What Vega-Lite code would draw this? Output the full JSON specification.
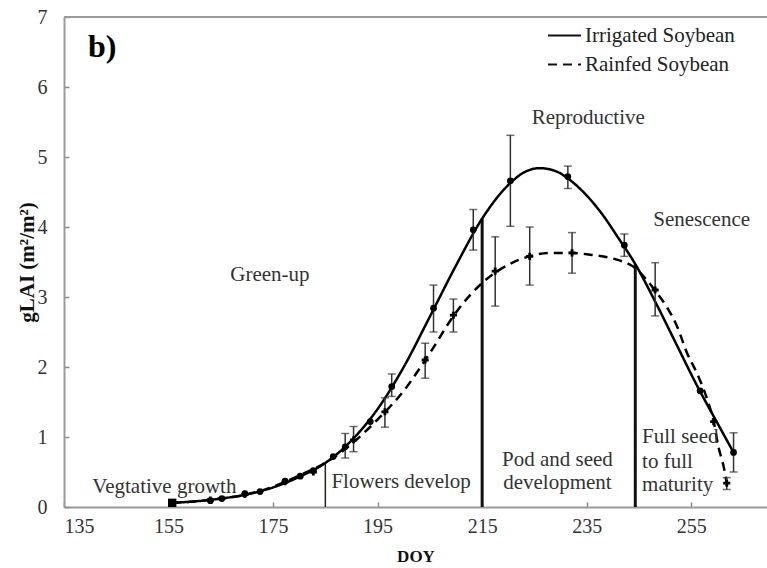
{
  "$schema": "https://vega.github.io/schema/vega-lite/v6.json",
  "width": 703,
  "height": 490,
  "autosize": {"type": "none"},
  "padding": {"left": 64, "top": 17, "right": 0, "bottom": 61},
  "background": "white",
  "config": {
    "view": {"stroke": null},
    "font": "Liberation Serif",
    "axis": {
      "grid": false,
      "domainColor": "#9a9a9a",
      "domainWidth": 2,
      "tickColor": "#8a8a8a",
      "tickSize": -5,
      "tickWidth": 1.5,
      "labelFont": "Liberation Serif",
      "labelFontSize": 20,
      "labelColor": "#333333",
      "titleFont": "Liberation Serif",
      "titleFontWeight": "bold",
      "titleColor": "#111111"
    }
  },
  "datasets": {
    "curve": [
      {"series": "Irrigated Soybean", "DOY": 155.7, "gLAI": 0.06},
      {"series": "Irrigated Soybean", "DOY": 160, "gLAI": 0.08},
      {"series": "Irrigated Soybean", "DOY": 165, "gLAI": 0.12},
      {"series": "Irrigated Soybean", "DOY": 170, "gLAI": 0.18},
      {"series": "Irrigated Soybean", "DOY": 175, "gLAI": 0.28},
      {"series": "Irrigated Soybean", "DOY": 180, "gLAI": 0.43},
      {"series": "Irrigated Soybean", "DOY": 185, "gLAI": 0.63},
      {"series": "Irrigated Soybean", "DOY": 190, "gLAI": 0.95},
      {"series": "Irrigated Soybean", "DOY": 195, "gLAI": 1.40},
      {"series": "Irrigated Soybean", "DOY": 200, "gLAI": 2.00},
      {"series": "Irrigated Soybean", "DOY": 205, "gLAI": 2.72},
      {"series": "Irrigated Soybean", "DOY": 210, "gLAI": 3.45},
      {"series": "Irrigated Soybean", "DOY": 215, "gLAI": 4.12},
      {"series": "Irrigated Soybean", "DOY": 220, "gLAI": 4.60},
      {"series": "Irrigated Soybean", "DOY": 223, "gLAI": 4.78},
      {"series": "Irrigated Soybean", "DOY": 226, "gLAI": 4.84},
      {"series": "Irrigated Soybean", "DOY": 229, "gLAI": 4.80},
      {"series": "Irrigated Soybean", "DOY": 232, "gLAI": 4.66},
      {"series": "Irrigated Soybean", "DOY": 235, "gLAI": 4.45},
      {"series": "Irrigated Soybean", "DOY": 238, "gLAI": 4.18},
      {"series": "Irrigated Soybean", "DOY": 241, "gLAI": 3.85},
      {"series": "Irrigated Soybean", "DOY": 244.3, "gLAI": 3.47},
      {"series": "Irrigated Soybean", "DOY": 248, "gLAI": 2.95},
      {"series": "Irrigated Soybean", "DOY": 252, "gLAI": 2.35},
      {"series": "Irrigated Soybean", "DOY": 256, "gLAI": 1.75},
      {"series": "Irrigated Soybean", "DOY": 260, "gLAI": 1.20},
      {"series": "Irrigated Soybean", "DOY": 263.1, "gLAI": 0.78},
      {"series": "Rainfed Soybean", "DOY": 155.7, "gLAI": 0.06},
      {"series": "Rainfed Soybean", "DOY": 160, "gLAI": 0.08},
      {"series": "Rainfed Soybean", "DOY": 165, "gLAI": 0.12},
      {"series": "Rainfed Soybean", "DOY": 170, "gLAI": 0.18},
      {"series": "Rainfed Soybean", "DOY": 175, "gLAI": 0.29},
      {"series": "Rainfed Soybean", "DOY": 180, "gLAI": 0.45},
      {"series": "Rainfed Soybean", "DOY": 185, "gLAI": 0.63},
      {"series": "Rainfed Soybean", "DOY": 190, "gLAI": 0.90},
      {"series": "Rainfed Soybean", "DOY": 195, "gLAI": 1.25},
      {"series": "Rainfed Soybean", "DOY": 200, "gLAI": 1.66},
      {"series": "Rainfed Soybean", "DOY": 205, "gLAI": 2.20},
      {"series": "Rainfed Soybean", "DOY": 210, "gLAI": 2.78},
      {"series": "Rainfed Soybean", "DOY": 215, "gLAI": 3.20},
      {"series": "Rainfed Soybean", "DOY": 220, "gLAI": 3.46},
      {"series": "Rainfed Soybean", "DOY": 224, "gLAI": 3.58},
      {"series": "Rainfed Soybean", "DOY": 228, "gLAI": 3.63},
      {"series": "Rainfed Soybean", "DOY": 232, "gLAI": 3.63},
      {"series": "Rainfed Soybean", "DOY": 236, "gLAI": 3.60},
      {"series": "Rainfed Soybean", "DOY": 240, "gLAI": 3.55},
      {"series": "Rainfed Soybean", "DOY": 244.5, "gLAI": 3.40},
      {"series": "Rainfed Soybean", "DOY": 248, "gLAI": 3.10},
      {"series": "Rainfed Soybean", "DOY": 250.3, "gLAI": 2.86},
      {"series": "Rainfed Soybean", "DOY": 252.3, "gLAI": 2.58},
      {"series": "Rainfed Soybean", "DOY": 254.2, "gLAI": 2.20},
      {"series": "Rainfed Soybean", "DOY": 256.1, "gLAI": 1.91},
      {"series": "Rainfed Soybean", "DOY": 258, "gLAI": 1.55},
      {"series": "Rainfed Soybean", "DOY": 259.3, "gLAI": 1.22},
      {"series": "Rainfed Soybean", "DOY": 260.2, "gLAI": 0.86},
      {"series": "Rainfed Soybean", "DOY": 261.2, "gLAI": 0.58},
      {"series": "Rainfed Soybean", "DOY": 261.8, "gLAI": 0.34}
    ],
    "obs": [
      {"series": "Irrigated Soybean", "DOY": 155.7, "gLAI": 0.06},
      {"series": "Irrigated Soybean", "DOY": 163, "gLAI": 0.09},
      {"series": "Irrigated Soybean", "DOY": 165.2, "gLAI": 0.12},
      {"series": "Irrigated Soybean", "DOY": 169.6, "gLAI": 0.19},
      {"series": "Irrigated Soybean", "DOY": 172.5, "gLAI": 0.22},
      {"series": "Irrigated Soybean", "DOY": 177.3, "gLAI": 0.37},
      {"series": "Irrigated Soybean", "DOY": 180.2, "gLAI": 0.44},
      {"series": "Irrigated Soybean", "DOY": 182.7, "gLAI": 0.52},
      {"series": "Irrigated Soybean", "DOY": 186.5, "gLAI": 0.72},
      {"series": "Irrigated Soybean", "DOY": 188.8, "gLAI": 0.86, "lo": 0.70, "hi": 1.05},
      {"series": "Irrigated Soybean", "DOY": 193.6, "gLAI": 1.22},
      {"series": "Irrigated Soybean", "DOY": 197.7, "gLAI": 1.72, "lo": 1.58, "hi": 1.90},
      {"series": "Irrigated Soybean", "DOY": 205.7, "gLAI": 2.84, "lo": 2.50, "hi": 3.17},
      {"series": "Irrigated Soybean", "DOY": 213.3, "gLAI": 3.96, "lo": 3.67, "hi": 4.25},
      {"series": "Irrigated Soybean", "DOY": 220.4, "gLAI": 4.66, "lo": 4.01, "hi": 5.31},
      {"series": "Irrigated Soybean", "DOY": 231.4, "gLAI": 4.72, "lo": 4.55, "hi": 4.87},
      {"series": "Irrigated Soybean", "DOY": 242.2, "gLAI": 3.74, "lo": 3.58, "hi": 3.90},
      {"series": "Irrigated Soybean", "DOY": 256.7, "gLAI": 1.66},
      {"series": "Irrigated Soybean", "DOY": 263.1, "gLAI": 0.78, "lo": 0.50, "hi": 1.06},
      {"series": "Rainfed Soybean", "DOY": 163, "gLAI": 0.10},
      {"series": "Rainfed Soybean", "DOY": 169.6, "gLAI": 0.18},
      {"series": "Rainfed Soybean", "DOY": 177.3, "gLAI": 0.36},
      {"series": "Rainfed Soybean", "DOY": 182.7, "gLAI": 0.50},
      {"series": "Rainfed Soybean", "DOY": 190.4, "gLAI": 0.96, "lo": 0.79, "hi": 1.15},
      {"series": "Rainfed Soybean", "DOY": 196.4, "gLAI": 1.36, "lo": 1.14, "hi": 1.56},
      {"series": "Rainfed Soybean", "DOY": 204.1, "gLAI": 2.10, "lo": 1.84, "hi": 2.34},
      {"series": "Rainfed Soybean", "DOY": 209.5, "gLAI": 2.74, "lo": 2.50, "hi": 2.97},
      {"series": "Rainfed Soybean", "DOY": 217.5, "gLAI": 3.37, "lo": 2.87, "hi": 3.86},
      {"series": "Rainfed Soybean", "DOY": 224.1, "gLAI": 3.58, "lo": 3.17, "hi": 4.00},
      {"series": "Rainfed Soybean", "DOY": 232.2, "gLAI": 3.63, "lo": 3.34, "hi": 3.92},
      {"series": "Rainfed Soybean", "DOY": 248.1, "gLAI": 3.10, "lo": 2.73, "hi": 3.49},
      {"series": "Rainfed Soybean", "DOY": 259.3, "gLAI": 1.22},
      {"series": "Rainfed Soybean", "DOY": 261.8, "gLAI": 0.34, "lo": 0.25, "hi": 0.42}
    ],
    "stages": [
      {"DOY": 185, "top": 0.62, "base": 0},
      {"DOY": 215, "top": 4.12, "base": 0},
      {"DOY": 244.3, "top": 3.47, "base": 0}
    ],
    "labels": [
      {"text": "Green-up", "DOY": 174.4, "gLAI": 3.31},
      {"text": "Reproductive", "DOY": 235.3, "gLAI": 5.56},
      {"text": "Senescence", "DOY": 257.0, "gLAI": 4.1},
      {"text": "Vegtative growth", "DOY": 154.2, "gLAI": 0.29},
      {"text": "Flowers develop", "DOY": 199.5, "gLAI": 0.36},
      {"text": "Pod and seed", "DOY": 229.4, "gLAI": 0.67},
      {"text": "development", "DOY": 229.4, "gLAI": 0.34}
    ],
    "leftlabels": [
      {"text": "Full seed", "DOY": 245.6, "gLAI": 1.0},
      {"text": "to full", "DOY": 245.6, "gLAI": 0.64},
      {"text": "maturity", "DOY": 245.6, "gLAI": 0.31}
    ],
    "panel": [
      {"text": "b)", "DOY": 139.6, "gLAI": 6.57}
    ],
    "start": [
      {"DOY": 155.7, "gLAI": 0.06}
    ]
  },
  "encoding": {
    "x": {
      "field": "DOY",
      "type": "quantitative",
      "scale": {"domain": [135, 269.5], "nice": false, "zero": false},
      "axis": {"values": [135, 155, 175, 195, 215, 235, 255], "title": "DOY", "titleFontSize": 17, "labelPadding": 14, "titlePadding": 12}
    },
    "y": {
      "field": "gLAI",
      "type": "quantitative",
      "scale": {"domain": [0, 7], "nice": false},
      "axis": {"values": [0, 1, 2, 3, 4, 5, 6, 7], "title": "gLAI (m²/m²)", "titleFontSize": 21, "labelPadding": 22, "titlePadding": 0}
    }
  },
  "layer": [
    {
      "data": {"name": "panel"},
      "mark": {"type": "rule", "color": "#9a9a9a", "strokeWidth": 2},
      "encoding": {
        "x": {"datum": 135, "type": "quantitative"},
        "x2": {"datum": 269.5},
        "y": {"datum": 7, "type": "quantitative"}
      }
    },
    {
      "data": {"name": "stages"},
      "transform": [{"filter": "datum.DOY > 200"}],
      "mark": {"type": "rule", "color": "#111111", "strokeWidth": 3},
      "encoding": {
        "y": {"field": "top", "type": "quantitative"},
        "y2": {"field": "base"}
      }
    },
    {
      "data": {"name": "stages"},
      "transform": [{"filter": "datum.DOY < 200"}],
      "mark": {"type": "rule", "color": "#222222", "strokeWidth": 1.5},
      "encoding": {
        "y": {"field": "top", "type": "quantitative"},
        "y2": {"field": "base"}
      }
    },
    {
      "data": {"name": "curve"},
      "mark": {"type": "line", "interpolate": "monotone", "color": "#000000", "strokeWidth": 2.5},
      "encoding": {
        "strokeDash": {
          "field": "series",
          "type": "nominal",
          "scale": {"domain": ["Irrigated Soybean", "Rainfed Soybean"], "range": [[1, 0], [9, 6]]},
          "legend": {
            "title": null,
            "orient": "none",
            "legendX": 483,
            "legendY": 1,
            "symbolType": "stroke",
            "symbolSize": 1089,
            "symbolStrokeWidth": 2,
            "symbolStrokeColor": "#111111",
            "labelFont": "Liberation Serif",
            "labelFontSize": 21,
            "labelColor": "#222222",
            "labelOffset": 3,
            "rowPadding": 1,
            "padding": 0
          }
        }
      }
    },
    {
      "data": {"name": "obs"},
      "transform": [{"filter": "isValid(datum.hi)"}],
      "mark": {"type": "errorbar", "ticks": {"size": 8}, "color": "#333333", "thickness": 1.5},
      "encoding": {
        "y": {"field": "lo", "type": "quantitative"},
        "y2": {"field": "hi"}
      }
    },
    {
      "data": {"name": "obs"},
      "transform": [{"filter": "datum.series === 'Irrigated Soybean'"}],
      "mark": {"type": "point", "shape": "circle", "filled": true, "color": "#000000", "size": 45, "opacity": 1}
    },
    {
      "data": {"name": "start"},
      "mark": {"type": "point", "shape": "square", "filled": true, "color": "#000000", "size": 70, "opacity": 1}
    },
    {
      "data": {"name": "obs"},
      "transform": [{"filter": "datum.series === 'Rainfed Soybean'"}],
      "mark": {"type": "point", "shape": "cross", "filled": true, "color": "#000000", "size": 50, "opacity": 1}
    },
    {
      "data": {"name": "labels"},
      "mark": {"type": "text", "font": "Liberation Serif", "fontSize": 21, "color": "#333333", "align": "center", "baseline": "middle"},
      "encoding": {"text": {"field": "text"}}
    },
    {
      "data": {"name": "leftlabels"},
      "mark": {"type": "text", "font": "Liberation Serif", "fontSize": 21, "color": "#333333", "align": "left", "baseline": "middle"},
      "encoding": {"text": {"field": "text"}}
    },
    {
      "data": {"name": "panel"},
      "mark": {"type": "text", "font": "Liberation Serif", "fontSize": 32, "fontWeight": "bold", "color": "#000000", "align": "left", "baseline": "middle"},
      "encoding": {"text": {"field": "text"}}
    }
  ]
}
